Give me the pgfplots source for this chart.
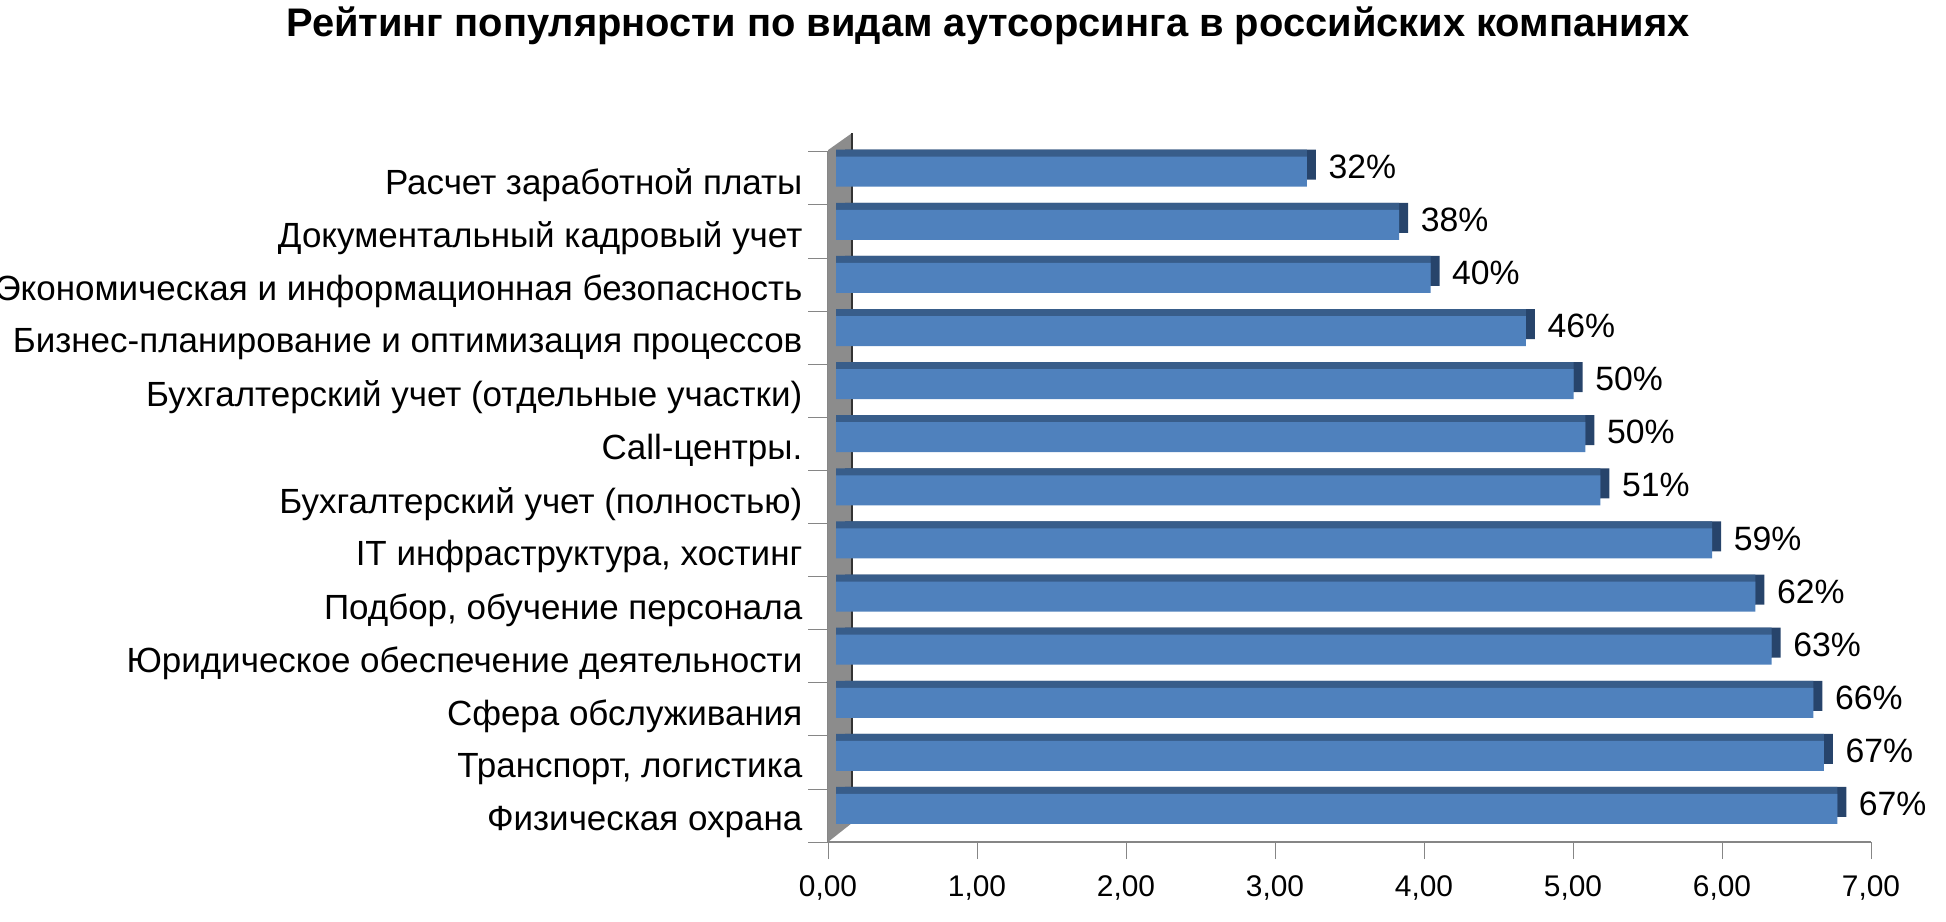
\documentclass[border=0pt]{standalone}
\usepackage{fontspec}
\setmainfont{Liberation Sans}
\usepackage{pgfplots}
\usepackage{pgfplotstable}
\pgfplotsset{compat=1.18}

\definecolor{barfront}{HTML}{4F81BD}
\definecolor{bartop}{HTML}{385D8A}
\definecolor{barside}{HTML}{27446B}
\definecolor{wallgray}{HTML}{8C8C8C}
\definecolor{axisgray}{HTML}{868686}

% y = position (0 = bottom), v = bar length, lab = printed percent
\pgfplotstableread{
y v lab
12 3.16 32
11 3.78 38
10 3.99 40
9 4.63 46
8 4.95 50
7 5.03 50
6 5.13 51
5 5.88 59
4 6.17 62
3 6.28 63
2 6.56 66
1 6.63 67
0 6.72 67
}\outsourcing

\begin{document}
\begin{tikzpicture}
\begin{axis}[
    at={(8.28cm,0.79cm)}, anchor=south west,
    scale only axis, width=10.43cm, height=6.903cm,
    xmin=0, xmax=7, ymin=-0.5, ymax=12.5,
    clip=false,
    axis x line*=bottom, axis y line*=left,
    axis line style={axisgray},
    xtick={0,...,7},
    ytick={0,...,12},
    yticklabels={Физическая охрана, {Транспорт, логистика}, Сфера обслуживания,
      Юридическое обеспечение деятельности, {Подбор, обучение персонала},
      {IT инфраструктура, хостинг}, Бухгалтерский учет (полностью), Call-центры.,
      Бухгалтерский учет (отдельные участки), Бизнес-планирование и оптимизация процессов,
      Экономическая и информационная безопасность, Документальный кадровый учет,
      Расчет заработной платы},
    minor ytick={-0.5,0.5,...,12.5},
    tick align=outside,
    major tick length=0.17cm, minor tick length=0.2cm,
    major x tick style={axisgray},
    major y tick style={draw=none},
    minor y tick style={axisgray},
    yticklabel style={font=\fontsize{9.95}{11}\selectfont, inner sep=0pt, anchor=east,
      xshift=-0.08cm, yshift=-0.07cm},
    xticklabel style={font=\fontsize{8.5}{9}\selectfont, inner sep=0pt, anchor=north, yshift=-0.16cm},
    /pgf/number format/assume math mode=true,
    xticklabel={\pgfmathprintnumber[fixed, fixed zerofill, precision=2, use comma]{\tick}},
]
% grey side wall
\fill[wallgray] (axis cs:0,-0.5) -- (axis cs:0,12.53) -- (axis cs:0.161,12.85) -- (axis cs:0.161,-0.142) -- cycle;
\draw[black!80, line width=0.6pt] (axis cs:0.161,12.85) -- (axis cs:0.161,-0.142);

% depth faces of the bars
\addplot[xbar, bar width=0.30cm, bar shift=0pt, fill=barside, draw=none,
    xshift=0.17cm, yshift=0.135cm] table[x=v, y=y] {\outsourcing};
\addplot[xbar, bar width=0.30cm, bar shift=0pt, fill=bartop, draw=none,
    xshift=0.08cm, yshift=0.135cm] table[x=v, y=y] {\outsourcing};
% front faces with labels
\addplot[xbar, bar width=0.30cm, bar shift=0pt, fill=barfront, draw=none,
    xshift=0.08cm, yshift=0.065cm,
    point meta=explicit symbolic,
    nodes near coords={\pgfplotspointmeta\%},
    every node near coord/.append style={font=\fontsize{9.6}{11}\selectfont, inner sep=0pt,
      anchor=west, xshift=0.21cm, yshift=0.05cm, text=black}]
    table[x=v, y=y, meta=lab] {\outsourcing};
\end{axis}

\node[font=\bfseries\fontsize{11.35}{13}\selectfont] at (9.88cm,8.95cm)
  {Рейтинг популярности по видам аутсорсинга в российских компаниях};

\pgfresetboundingbox
\useasboundingbox (0,0) rectangle (19.46cm,9.21cm);
\end{tikzpicture}
\end{document}
